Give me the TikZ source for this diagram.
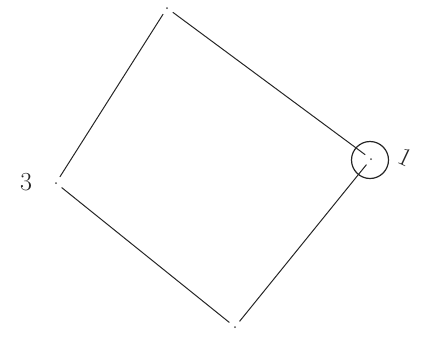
\documentclass[tikz,border=0pt]{standalone}
\begin{document}
\begin{tikzpicture}[x=1pt,y=-1pt,
  vdot/.style={circle,fill=black!70,inner sep=0pt,minimum size=2pt},
  edge/.style={draw=black!85,line width=1pt,shorten <=6pt,shorten >=6pt},
  lbl/.style={font=\fontsize{26}{28}\selectfont,text=black!85}]
\useasboundingbox (0,0) rectangle (431,338);
\node[vdot] (t) at (167,8) {};
\node[vdot] (r) at (371,159) {};
\node[vdot] (b) at (235,327) {};
\node[vdot] (l) at (56,183) {};
\node[draw=black!85,line width=1.2pt,circle,minimum size=37pt,inner sep=0pt] (c) at (370,160) {};
\draw[edge] (t) -- (r);
\draw[edge] (r) -- (b);
\draw[edge] (b) -- (l);
\draw[edge] (l) -- (t);
\node[lbl,rotate=-25] (one) at (406,157) {1};
\node[lbl] (three) at (26,182) {3};
\end{tikzpicture}
\end{document}
